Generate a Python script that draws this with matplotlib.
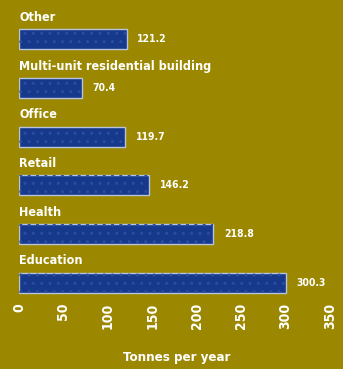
import matplotlib.pyplot as plt
import numpy as np

categories = [
    "Other",
    "Multi-unit residential building",
    "Office",
    "Retail",
    "Health",
    "Education",
]
tonnes = [121.2, 70.4, 119.7, 146.2, 218.8, 300.3]
x_ticks = [0, 50, 100, 150, 200, 250, 300, 350]

bg = "#9c8800"
bar_face = "#17398c"
bar_edge = "#b9c3dc"
font = ["Liberation Sans Narrow", "DejaVu Sans Condensed", "DejaVu Sans"]

fig = plt.figure(figsize=(3.43, 3.69), dpi=100, facecolor=bg)
ax = fig.add_axes([19 / 343, 0.198, 311 / 343, 0.775])
ax.set_facecolor(bg)

y = np.arange(len(categories))
height = 0.41
ax.barh(y, tonnes, height, color=bar_face, edgecolor=bar_edge, linewidth=1.0)
# faint dotted texture on the bars
ax.barh(y, tonnes, height, color="none", edgecolor="#2a4d9e", linewidth=0, hatch="..")

for i, (name, val) in enumerate(zip(categories, tonnes)):
    ax.text(0, i - height / 2 - 0.11, name, ha="left", va="bottom",
            color="white", fontsize=9, fontweight="bold", family=font,
            fontstretch="condensed")
    ax.text(val + 12, i, f"{val:.1f}", ha="left", va="center",
            color="white", fontsize=7.5, fontweight="bold", family=font,
            fontstretch="condensed")

ax.set_xlim(0, 350)
ax.set_ylim(5.27, -0.6)
ax.set_yticks([])
ax.set_xticks(x_ticks)
ax.set_xticklabels([str(t) for t in x_ticks], rotation=90, color="white",
                   fontsize=10, fontweight="bold", family=font,
                   fontstretch="condensed")
ax.tick_params(axis="x", length=0, pad=5)
for s in ax.spines.values():
    s.set_visible(False)

fig.text(177 / 343, 1 - 357 / 369, "Tonnes per year", ha="center", va="center",
         color="white", fontsize=9.5, fontweight="bold", family=font,
         fontstretch="condensed")

fig.savefig("out.png", dpi=100, facecolor=bg)
